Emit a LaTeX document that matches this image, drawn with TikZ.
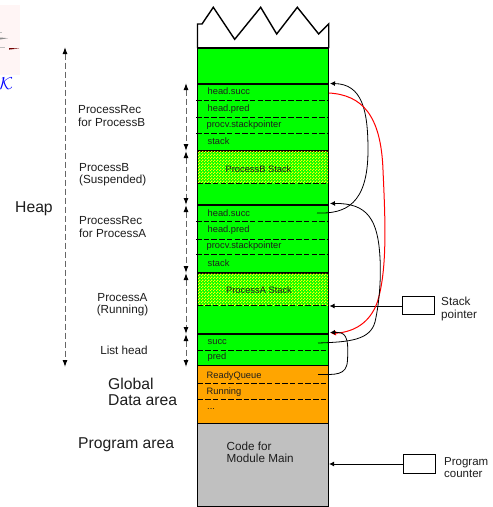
\documentclass[tikz,border=0pt]{standalone}
\usepackage{fontspec}
\setmainfont{Liberation Sans}
\usetikzlibrary{arrows.meta,patterns}
\definecolor{memgreen}{RGB}{0,255,0}
\definecolor{memorange}{RGB}{255,165,0}
\definecolor{memgray}{RGB}{192,192,192}
\definecolor{txt}{RGB}{30,30,30}
\pgfdeclarepatternformonly{memcheck}{\pgfqpoint{0pt}{0pt}}{\pgfqpoint{3pt}{3pt}}{\pgfqpoint{3pt}{3pt}}{%
  \pgfpathrectangle{\pgfqpoint{0pt}{0pt}}{\pgfqpoint{1.5pt}{1.5pt}}%
  \pgfpathrectangle{\pgfqpoint{1.5pt}{1.5pt}}{\pgfqpoint{1.5pt}{1.5pt}}%
  \pgfusepath{fill}}
\tikzset{
  x=1pt,y=-1pt,
  mem/.style={draw=black,line width=1.4pt,anchor=north west,inner sep=0,outer sep=0,minimum width=131.2pt},
  cell/.style={anchor=mid west,inner sep=0,font=\fontsize{9.3}{10}\selectfont,text=txt},
  lab/.style={anchor=west,inner sep=0,align=left,font=\fontsize{11.7}{12.2}\selectfont,text=txt},
  big/.style={anchor=west,inner sep=0,align=left,font=\fontsize{15.7}{16}\selectfont,text=txt},
  sep/.style={draw=black,dash pattern=on 5.5pt off 2.2pt,line width=1pt},
  brace/.style={draw=black!60,line width=1pt,dash pattern=on 6pt off 3pt,
    {Latex[black,length=7pt,width=5pt]}-{Latex[black,length=7pt,width=5pt]}},
  conn/.style={draw=black,line width=0.8pt,-{Latex[black,length=5pt,width=5pt]}},
  redconn/.style={draw=red,line width=1pt,-{Latex[red,length=5pt,width=5pt]}},
  reg/.style={draw=black,line width=1pt,anchor=north west,inner sep=0,outer sep=0,minimum width=32pt,minimum height=18.5pt},
  hatch/.style={pattern=memcheck,pattern color=yellow},
}
\begin{document}
\begin{tikzpicture}
\useasboundingbox (0,0) rectangle (493,507);
\fill[white] (0,0) rectangle (493,507);
% corner picture fragment
\fill[red!4!white] (0,5) rectangle (20,75);
\fill[black!45] (0,37.5) -- (8,38.2) -- (0,39.5) -- cycle;
\fill[black!55!red] (9,48) -- (19,48.5) -- (9,49.6) -- cycle;
\fill[black!25] (0,32) rectangle (2,33);
\fill[black!25] (0,47) rectangle (5,48);
\node[anchor=mid west,inner sep=0,text=blue,font=\fontsize{16}{18}\selectfont] (kay) at (-0.5,87) {$\mathcal{K}$};
% top torn edge
\draw[black,line width=1.4pt,fill=white,line join=miter]
  (197.5,48) -- (197.5,24) -- (202,24) -- (213.3,7.3) -- (234.7,39.3) -- (260.7,7.3)
  -- (276.7,34) -- (297.3,7.3) -- (318.7,34) -- (328.7,24) -- (328.7,48);
% memory areas
\node[mem,fill=memgreen,minimum height=36pt] (free) at (197.5,48) {};
\node[mem,fill=memgreen,minimum height=67pt] (recb) at (197.5,84) {};
\node[mem,fill=memgreen,minimum height=54pt] (stb) at (197.5,151) {};
\fill[hatch] (198.2,151.7) rectangle (328,183.5);
\node[mem,fill=memgreen,minimum height=68pt] (reca) at (197.5,205) {};
\node[mem,fill=memgreen,minimum height=61pt] (sta) at (197.5,273) {};
\fill[hatch] (198.2,273.7) rectangle (328,305.7);
\node[mem,fill=memgreen,minimum height=31.5pt] (head) at (197.5,334) {};
\node[mem,fill=memorange,minimum height=58pt] (glob) at (197.5,365.5) {};
\node[mem,fill=memgray,minimum height=83pt] (code) at (197.5,423.5) {};
% separators
\foreach \yy in {100,117,133,221.7,239,254.5}{\draw[sep] (196,\yy) -- (328.7,\yy);}
\foreach \yy in {183.3,305.7,350,383,399}{\draw[sep] (197.5,\yy) -- (328.7,\yy);}
% cell text
\node[cell] (t1) at (207.5,92) {head.succ};
\node[cell] (t2) at (207.5,109) {head.pred};
\node[cell] (t3) at (206.5,125) {procv.stackpointer};
\node[cell] (t4) at (207.5,142) {stack};
\node[cell,anchor=center] (t5) at (258.5,169) {ProcessB Stack};
\node[cell] (t6) at (207.5,214) {head.succ};
\node[cell] (t7) at (207.5,230) {head.pred};
\node[cell] (t8) at (206.5,246) {procv.stackpointer};
\node[cell] (t9) at (207.5,264) {stack};
\node[cell,anchor=center] (t10) at (259,290.5) {ProcessA Stack};
\node[cell] (t11) at (207.5,342) {succ};
\node[cell] (t12) at (207.5,357) {pred};
\node[cell] (t13) at (206.5,375.5) {ReadyQueue};
\node[cell] (t14) at (206.5,392) {Running};
\node[cell] (t15) at (207,407) {...};
\node[lab] (t16) at (226.5,452) {Code for\\Module Main};
% left labels
\node[lab] (l1) at (78,116) {ProcessRec\\for ProcessB};
\node[lab] (l2) at (79,174.5) {ProcessB\\(Suspended)};
\node[big] (l3) at (15,208.5) {Heap};
\node[lab] (l4) at (79,227) {ProcessRec\\for ProcessA};
\node[lab,align=center,anchor=center] (l5) at (122.5,305) {ProcessA\\(Running)};
\node[lab,anchor=center] (l6) at (124,350) {List head};
\node[big] (l7) at (108,392) {Global\\Data area};
\node[big] (l8) at (78,444.5) {Program area};
% extents
\coordinate (ht) at (65,47);
\coordinate (hb) at (65,367);
\draw[brace] (ht) -- (hb);
\coordinate (b0) at (186,83);
\coordinate (b1) at (186,151);
\coordinate (b2) at (186,205);
\coordinate (b3) at (186,273);
\coordinate (b4) at (186,334);
\coordinate (b5) at (186,367);
\draw[brace] (b0) -- (b1);
\draw[brace] (b1) -- (b2);
\draw[brace] (b2) -- (b3);
\draw[brace] (b3) -- (b4);
\draw[brace] (b4) -- (b5);
% registers
\node[reg] (sp) at (402.3,296) {};
\node[reg] (pc) at (403,454.5) {};
\node[lab] (sptxt) at (441,309) {Stack\\pointer};
\node[lab,font=\fontsize{11.5}{12.2}\selectfont] (pctxt) at (444,467.5) {Program\\counter};
\coordinate (spin) at (329.5,306);
\coordinate (pcin) at (329,464);
\draw[conn,line width=1pt] (sp.west |- spin) -- (spin);
\draw[conn,line width=1pt] (pc.west |- pcin) -- (pcin);
% list links
\coordinate (asucc) at (317,213);
\coordinate (bhead) at (330,83.5);
\coordinate (bred) at (329,93);
\coordinate (lhead) at (331,333.5);
\coordinate (lsucc) at (318,343);
\coordinate (ahead) at (330,203.5);
\coordinate (rq) at (318,374.5);
\coordinate (lhead2) at (330,332.5);
\draw[conn] (asucc) .. controls (345,214) and (368,205) .. (368,150) .. controls (368,110) and (362,84) .. (bhead);
\draw[redconn] (bred) .. controls (362,95) and (381,115) .. (383,170) .. controls (385,215) and (388,270) .. (377,303) .. controls (370,322) and (355,332) .. (lhead);
\draw[conn] (lsucc) .. controls (350,342) and (370,340) .. (375,322) .. controls (380,300) and (381,275) .. (380,258) .. controls (378,220) and (368,203) .. (ahead);
\draw[conn] (rq) .. controls (335,374.5) and (347,376) .. (347.5,360) .. controls (349,335) and (345,332) .. (lhead2);
\end{tikzpicture}
\end{document}
